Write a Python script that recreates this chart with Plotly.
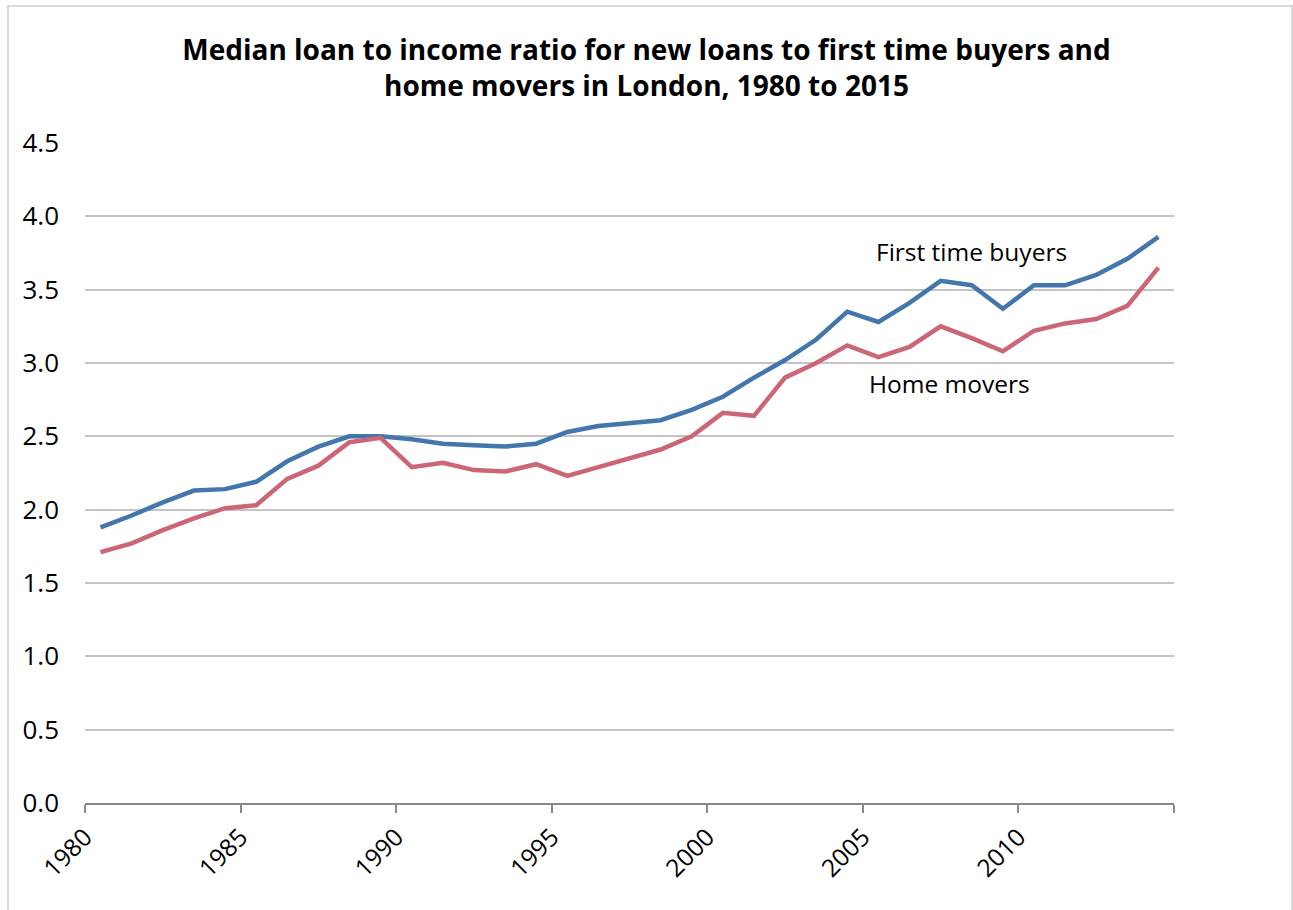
import plotly.graph_objects as go

# Median loan-to-income ratios, London, by year
years = list(range(1980, 2015))
first_time_buyers = [
    1.88, 1.96, 2.05, 2.13, 2.14, 2.19, 2.33, 2.43, 2.50, 2.50,
    2.48, 2.45, 2.44, 2.43, 2.45, 2.53, 2.57, 2.59, 2.61, 2.68,
    2.77, 2.90, 3.02, 3.16, 3.35, 3.28, 3.41, 3.56, 3.53, 3.37,
    3.53, 3.53, 3.60, 3.71, 3.86,
]
home_movers = [
    1.71, 1.77, 1.86, 1.94, 2.01, 2.03, 2.21, 2.30, 2.46, 2.49,
    2.29, 2.32, 2.27, 2.26, 2.31, 2.23, 2.29, 2.35, 2.41, 2.50,
    2.66, 2.64, 2.90, 3.00, 3.12, 3.04, 3.11, 3.25, 3.17, 3.08,
    3.22, 3.27, 3.30, 3.39, 3.65,
]
year_ticks = [1980, 1985, 1990, 1995, 2000, 2005, 2010, 2015]
year_labels = ["1980", "1985", "1990", "1995", "2000", "2005", "2010", ""]
y_ticks = [0.0, 0.5, 1.0, 1.5, 2.0, 2.5, 3.0, 3.5, 4.0, 4.5]

BLUE = "#4276AD"
RED = "#CC6677"
FONT = "Open Sans"

# each year's point sits in the middle of its year slot
x_mid = [y + 0.5 for y in years]

fig = go.Figure()
fig.add_trace(go.Scatter(x=x_mid, y=first_time_buyers, mode="lines",
                         name="First time buyers",
                         line=dict(color=BLUE, width=4.5)))
fig.add_trace(go.Scatter(x=x_mid, y=home_movers, mode="lines",
                         name="Home movers",
                         line=dict(color=RED, width=4.5)))

fig.add_annotation(x=2008.5, y=3.76, text="First time buyers", showarrow=False,
                   font=dict(family=FONT, size=24.5, color="#000000"))
fig.add_annotation(x=2007.8, y=2.86, text="Home movers", showarrow=False,
                   font=dict(family=FONT, size=24.5, color="#000000"))

W, H = 1293, 910
L, R, T, B = 85, 119, 143, 107
pw, ph = W - L - R, H - T - B

# light frame around the whole chart
fig.add_shape(type="rect", xref="paper", yref="paper",
              x0=(8 - L) / pw, x1=(1292 - L) / pw,
              y0=(H - 925 - B) / ph, y1=(H - 6 - B) / ph,
              line=dict(color="#D9D9D9", width=2), fillcolor="rgba(0,0,0,0)",
              layer="below")

fig.update_layout(
    width=W, height=H,
    margin=dict(l=L, r=R, t=T, b=B),
    paper_bgcolor="white", plot_bgcolor="white",
    showlegend=False,
    font=dict(family=FONT, color="#000000"),
    title=dict(
        text="<b>Median loan to income ratio for new loans to first time buyers and<br>home movers in London, 1980 to 2015</b>",
        x=0.5, xanchor="center", xref="container",
        y=1 - 60 / H, yanchor="middle",
        font=dict(family=FONT, size=28, color="#000000"),
    ),
    xaxis=dict(
        range=[1980, 2015], tickvals=year_ticks, ticktext=year_labels,
        tickangle=-45, showgrid=False, zeroline=False,
        showline=True, linecolor="#888888", linewidth=2,
        ticks="outside", ticklen=8, tickwidth=2, tickcolor="#888888",
        tickfont=dict(family=FONT, size=24.5, color="#000000"),
    ),
    yaxis=dict(
        range=[0, 4.5], tickvals=y_ticks, tickformat=".1f",
        showgrid=True, gridcolor="#C4C4C4", gridwidth=1.5,
        zeroline=False, showline=False, ticks="",
        ticklabelstandoff=25,
        tickfont=dict(family=FONT, size=26, color="#000000"),
    ),
)

fig.write_html("out.html")
